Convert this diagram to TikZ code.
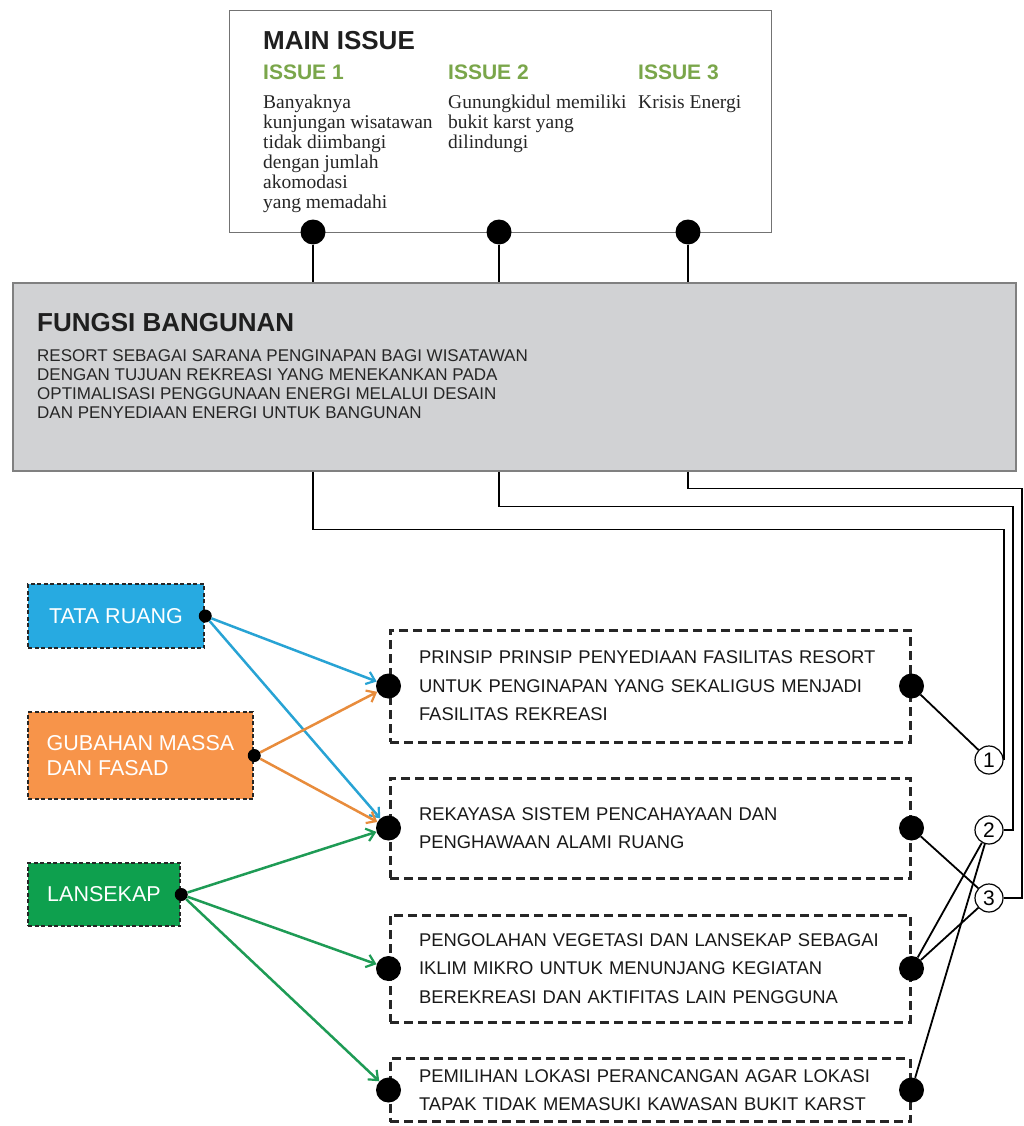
\documentclass[tikz,border=0pt]{standalone}
\usepackage{fontspec}
\setmainfont{Liberation Serif}
\setsansfont{Liberation Sans}
\usetikzlibrary{arrows.meta}

\definecolor{issuegreen}{RGB}{122,166,74}
\definecolor{fungsigray}{RGB}{209,210,212}
\definecolor{tatablue}{RGB}{39,170,225}
\definecolor{tataline}{RGB}{40,163,212}
\definecolor{gubahorange}{RGB}{247,148,74}
\definecolor{gubahline}{RGB}{232,140,60}
\definecolor{lansgreen}{RGB}{14,160,78}
\definecolor{lansline}{RGB}{30,155,85}

\begin{document}
\begin{tikzpicture}[
  x=1pt, y=-1pt,
  % boxes
  issuebox/.style={draw=black!55, line width=1pt, fill=white, inner sep=0pt, anchor=north west},
  fungsibox/.style={draw=black!50, line width=1.5pt, fill=fungsigray, inner sep=0pt, anchor=north west},
  aspek/.style={draw=black!85, line width=2.5pt, dash pattern=on 4pt off 2.5pt, align=left,
                text=white, inner sep=0pt, font=\sffamily\fontsize{21.5}{25}\selectfont},
  plan/.style={draw=black!85, line width=3pt, dash pattern=on 9pt off 5pt, fill=white,
               text width=462pt, inner xsep=29pt, inner ysep=0pt, align=left,
               font=\sffamily\fontsize{18.4}{28.5}\selectfont, text=black!90},
  % dots
  bigdot/.style={circle, fill=black, inner sep=0pt, minimum size=25pt},
  smalldot/.style={circle, fill=black, inner sep=0pt, minimum size=13pt},
  numcircle/.style={circle, draw, line width=1.2pt, fill=white, inner sep=0pt, minimum size=28pt,
                    font=\sffamily\fontsize{21}{21}\selectfont},
  % texts
  headtext/.style={anchor=north west, inner sep=0pt, text=black!88,
                   font=\sffamily\bfseries\fontsize{26}{26}\selectfont},
  issuehead/.style={anchor=north west, inner sep=0pt, text=issuegreen,
                    font=\sffamily\bfseries\fontsize{21}{21}\selectfont},
  issuetext/.style={anchor=north west, inner sep=0pt, align=left, text=black!85,
                    font=\fontsize{19.5}{20}\selectfont},
  fungsitext/.style={anchor=north west, inner sep=0pt, align=left, text=black!85,
                     font=\sffamily\fontsize{17}{19}\selectfont},
  % connectors
  link/.style={line width=1.8pt},
  flow/.style={line width=2.5pt, -{Straight Barb[length=8pt, width=13pt, line width=2.2pt]}}
]
\useasboundingbox (0,0) rectangle (1024,1126);

% main issue
\node[issuebox, minimum width=542pt, minimum height=222pt] (issue) at (229,10) {};
\node[headtext] (issuetitle) at (263,31) {MAIN ISSUE};
\node[issuehead] (head1) at (263,65) {ISSUE 1};
\node[issuehead] (head2) at (448,65) {ISSUE 2};
\node[issuehead] (head3) at (638,65) {ISSUE 3};
\node[issuetext] (text1) at (263,95) {Banyaknya\\kunjungan wisatawan\\tidak diimbangi\\dengan jumlah\\akomodasi\\yang memadahi};
\node[issuetext] (text2) at (448,95) {Gunungkidul memiliki\\bukit karst yang\\dilindungi};
\node[issuetext] (text3) at (638,95) {Krisis Energi};

\node[bigdot] (i1) at (313,232) {};
\node[bigdot] (i2) at (499,232) {};
\node[bigdot] (i3) at (688,232) {};

% fungsi bangunan
\node[fungsibox, minimum width=1003pt, minimum height=188pt] (fungsi) at (12,282) {};
\node[headtext] (fungsititle) at (37,313) {FUNGSI BANGUNAN};
\node[fungsitext] (fungsibody) at (37,349) {RESORT SEBAGAI SARANA PENGINAPAN BAGI WISATAWAN\\
  DENGAN TUJUAN REKREASI YANG MENEKANKAN PADA\\
  OPTIMALISASI PENGGUNAAN ENERGI MELALUI DESAIN\\
  DAN PENYEDIAAN ENERGI UNTUK BANGUNAN};

\draw[link] (i1) -- (i1 |- fungsi.north);
\draw[link] (i2) -- (i2 |- fungsi.north);
\draw[link] (i3) -- (i3 |- fungsi.north);

% aspects (left)
\node[aspek, fill=tatablue, minimum width=176pt, minimum height=64pt] (tata) at (116,616) {TATA RUANG};
\node[aspek, fill=gubahorange, minimum width=225pt, minimum height=87pt] (gubah) at (140.5,755.5) {GUBAHAN MASSA\\DAN FASAD};
\node[aspek, fill=lansgreen, minimum width=152pt, minimum height=63pt] (lans) at (104,894.5) {LANSEKAP};

\node[smalldot] (dtata) at (tata.east) {};
\node[smalldot] (dgubah) at (gubah.east) {};
\node[smalldot] (dlans) at (lans.east) {};

% design principles (right)
\node[plan, minimum height=112pt] (planA) at (650,686) {PRINSIP PRINSIP PENYEDIAAN FASILITAS RESORT\\UNTUK PENGINAPAN YANG SEKALIGUS MENJADI\\FASILITAS REKREASI};
\node[plan, minimum height=100pt] (planB) at (650,828) {REKAYASA SISTEM PENCAHAYAAN DAN\\PENGHAWAAN ALAMI RUANG};
\node[plan, minimum height=107pt] (planC) at (650,968.5) {PENGOLAHAN VEGETASI DAN LANSEKAP SEBAGAI\\IKLIM MIKRO UNTUK MENUNJANG KEGIATAN\\BEREKREASI DAN AKTIFITAS LAIN PENGGUNA};
\node[plan, minimum height=63pt] (planD) at (650,1090) {PEMILIHAN LOKASI PERANCANGAN AGAR LOKASI\\TAPAK TIDAK MEMASUKI KAWASAN BUKIT KARST};

\node[bigdot] (la) at (planA.west) {};
\node[bigdot] (lb) at (planB.west) {};
\node[bigdot] (lc) at (planC.west) {};
\node[bigdot] (ld) at (planD.west) {};
\node[bigdot] (ra) at (planA.east) {};
\node[bigdot] (rb) at (planB.east) {};
\node[bigdot] (rc) at (planC.east) {};
\node[bigdot] (rd) at (planD.east) {};

% issue numbers
\node[numcircle] (c1) at (989,760) {1};
\node[numcircle] (c2) at (989,830) {2};
\node[numcircle] (c3) at (989,898) {3};

% issue lines down to the numbers
\draw[link] (i1 |- fungsi.south) -- ++(0,58) -| (c1.east);
\draw[link] (i2 |- fungsi.south) -- ++(0,35) -| ([xshift=9pt]c2.east) -- (c2.east);
\draw[link] (i3 |- fungsi.south) -- ++(0,17) -| ([xshift=18pt]c3.east) -- (c3.east);

% principles to issues
\draw[link] (ra) -- (c1);
\draw[link] (rb) -- (c3);
\draw[link] (rc) -- (c2);
\draw[link] (rc) -- (c3);
\draw[link] (rd) -- (c2);

% aspects to principles
\draw[flow, tataline] (dtata) -- (la);
\draw[flow, tataline] (dtata) -- (lb);
\draw[flow, gubahline] (dgubah) -- (la);
\draw[flow, gubahline] (dgubah) -- (lb);
\draw[flow, lansline] (dlans) -- (lb);
\draw[flow, lansline] (dlans) -- (lc);
\draw[flow, lansline] (dlans) -- (ld);

\end{tikzpicture}
\end{document}
